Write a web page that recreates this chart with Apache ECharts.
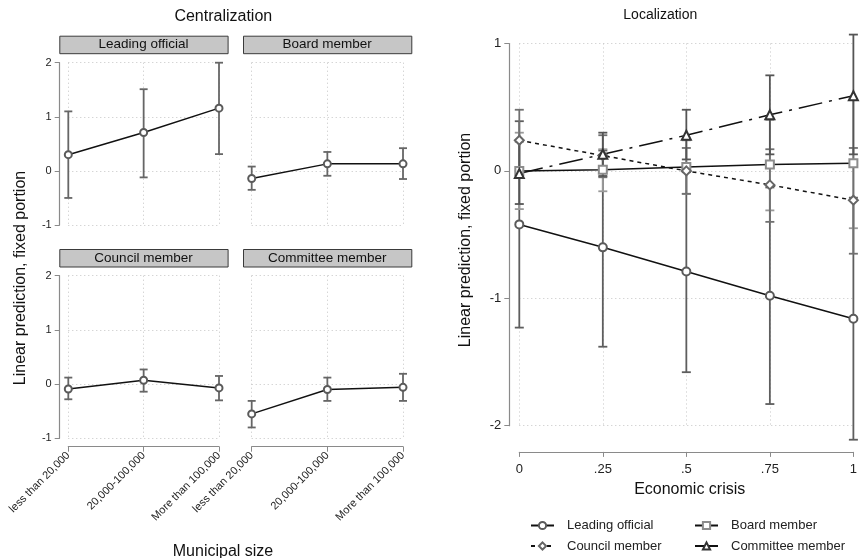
<!DOCTYPE html>
<html>
<head>
<meta charset="utf-8">
<script src="https://cdn.jsdelivr.net/npm/echarts@6/dist/echarts.min.js"></script>
<style>html,body{margin:0;padding:0;background:#fff}#c{width:860px;height:558px}</style>
</head>
<body>
<div id="c"></div>
<script>
// ---------- Data ----------
const sizeCats = ['less than 20,000', '20,000-100,000', 'More than 100,000'];
const sizeX = [1, 2, 3];
const panelTitles = ['Leading official', 'Board member', 'Council member', 'Committee member'];

// Centralization (by municipal size)
const cLeadMean = [0.30, 0.71, 1.16];
const cLeadLo = [-0.50, -0.12, 0.31];
const cLeadHi = [1.10, 1.51, 2.00];
const cBoardMean = [-0.14, 0.13, 0.13];
const cBoardLo = [-0.35, -0.09, -0.15];
const cBoardHi = [0.08, 0.35, 0.42];
const cCouncilMean = [-0.09, 0.07, -0.07];
const cCouncilLo = [-0.28, -0.14, -0.30];
const cCouncilHi = [0.12, 0.27, 0.15];
const cCommitteeMean = [-0.55, -0.10, -0.06];
const cCommitteeLo = [-0.80, -0.31, -0.31];
const cCommitteeHi = [-0.31, 0.12, 0.19];

// Localization (by economic crisis)
const crisis = [0, 0.25, 0.5, 0.75, 1];
const lLeadMean = [-0.42, -0.60, -0.79, -0.98, -1.16];
const lLeadLo = [-1.23, -1.38, -1.58, -1.83, -2.11];
const lLeadHi = [0.39, 0.16, -0.01, -0.13, -0.21];
const lBoardMean = [0.00, 0.01, 0.03, 0.05, 0.06];
const lBoardLo = [-0.30, -0.16, -0.18, -0.31, -0.45];
const lBoardHi = [0.30, 0.17, 0.24, 0.40, 0.56];
const lCouncilMean = [0.24, 0.12, 0.00, -0.11, -0.23];
const lCouncilLo = [0.00, -0.05, -0.18, -0.40, -0.65];
const lCouncilHi = [0.48, 0.28, 0.18, 0.17, 0.18];
const lCommitteeMean = [-0.02, 0.13, 0.28, 0.44, 0.59];
const lCommitteeLo = [-0.26, -0.04, 0.09, 0.13, 0.13];
const lCommitteeHi = [0.23, 0.30, 0.48, 0.75, 1.07];

const yTicksLeft = [-1, 0, 1, 2];
const yTicksRight = [-2, -1, 0, 1];
const crisisLabels = ['0', '.25', '.5', '.75', '1'];

// ---------- Helpers ----------
const FONT = 'Liberation Sans, Arial, sans-serif';
const AX = '#8a8a8a';
const GRIDC = '#c4c4c4';
const dotted = { show: true, lineStyle: { color: GRIDC, type: [1, 3], width: 1 } };

function zip(xs, ys) { return xs.map((x, i) => [x, ys[i]]); }
function zip3(xs, lo, hi) { return xs.map((x, i) => [x, lo[i], hi[i]]); }

function errBars(name, xs, lo, hi, gi, color, cap) {
  return {
    type: 'custom', name: name, xAxisIndex: gi, yAxisIndex: gi, z: 1, clip: false, silent: true,
    data: zip3(xs, lo, hi),
    encode: { x: 0, y: [1, 2] },
    renderItem: function (params, api) {
      const x = api.value(0), a = api.coord([x, api.value(1)]), b = api.coord([x, api.value(2)]);
      const st = { stroke: color, lineWidth: 1.8 };
      return { type: 'group', children: [
        { type: 'line', shape: { x1: a[0], y1: a[1], x2: b[0], y2: b[1] }, style: st },
        { type: 'line', shape: { x1: a[0] - cap, y1: a[1], x2: a[0] + cap, y2: a[1] }, style: st },
        { type: 'line', shape: { x1: b[0] - cap, y1: b[1], x2: b[0] + cap, y2: b[1] }, style: st }
      ] };
    }
  };
}

function meanLine(name, xs, ys, gi, symbol, mcolor, ltype, lcolor, size) {
  return {
    type: 'line', name: name, xAxisIndex: gi, yAxisIndex: gi, z: 3,
    data: zip(xs, ys), symbol: symbol, symbolSize: size || 7, showSymbol: true,
    lineStyle: { color: lcolor || '#111', width: 1.5, type: ltype || 'solid' },
    itemStyle: { color: mcolor, borderColor: mcolor, borderWidth: 1.1 },
    emphasis: { disabled: true }, animation: false
  };
}

// ---------- Grids / axes ----------
const gridsLeft = [
  { left: 68.3, top: 62.7, width: 150.7, height: 162.3 },
  { left: 251.7, top: 62.7, width: 151.3, height: 162.3 },
  { left: 68.3, top: 275.7, width: 150.7, height: 162.6 },
  { left: 251.7, top: 275.7, width: 151.3, height: 162.6 }
];
const grids = gridsLeft.concat([{ left: 519.3, top: 43.5, width: 340, height: 382.2 }]);

const xAxes = [], yAxes = [];
gridsLeft.forEach((g, i) => {
  const bottom = i >= 2;
  xAxes.push({
    type: 'value', gridIndex: i, position: 'bottom', min: 1, max: 3, interval: 1, offset: bottom ? 8.4 : 0,
    axisLine: { show: bottom, onZero: false, lineStyle: { color: AX, width: 1.2 } },
    axisTick: { show: bottom, length: 5, lineStyle: { color: AX } },
    axisLabel: { show: bottom, rotate: 45, margin: 7, fontSize: 11, color: '#222', fontFamily: FONT,
      formatter: v => sizeCats[sizeX.indexOf(v)] || '' },
    splitLine: dotted
  });
  const leftCol = (i % 2 === 0);
  yAxes.push({
    type: 'value', gridIndex: i, position: 'left', min: yTicksLeft[0], max: yTicksLeft[yTicksLeft.length - 1], interval: 1,
    offset: leftCol ? 8.6 : 0,
    axisLine: { show: leftCol, onZero: false, lineStyle: { color: AX, width: 1.2 } },
    axisTick: { show: leftCol, length: 5, lineStyle: { color: AX } },
    axisLabel: { show: leftCol, fontSize: 11, color: '#222', fontFamily: FONT, margin: 8 },
    splitLine: dotted
  });
});
xAxes.push({
  type: 'value', gridIndex: 4, position: 'bottom', min: 0, max: 1, interval: 0.25, offset: 26.2,
  axisLine: { show: true, onZero: false, lineStyle: { color: AX, width: 1.2 } },
  axisTick: { show: true, length: 5, lineStyle: { color: AX } },
  axisLabel: { fontSize: 13, color: '#222', fontFamily: FONT, margin: 11,
    formatter: v => crisisLabels[crisis.indexOf(v)] },
  splitLine: dotted
});
yAxes.push({
  type: 'value', gridIndex: 4, position: 'left', min: yTicksRight[0], max: yTicksRight[yTicksRight.length - 1], interval: 1, offset: 10,
  axisLine: { show: true, onZero: false, lineStyle: { color: AX, width: 1.2 } },
  axisTick: { show: true, length: 5, lineStyle: { color: AX } },
  axisLabel: { fontSize: 13, color: '#222', fontFamily: FONT, margin: 8 },
  splitLine: dotted
});

// ---------- Series ----------
const EB = '#666', EBL = '#999', MK = '#5a5a5a', MKL = '#8c8c8c';
const series = [
  errBars('cb0', sizeX, cLeadLo, cLeadHi, 0, EB, 4),
  meanLine('c-lead', sizeX, cLeadMean, 0, 'emptyCircle', MK),
  errBars('cb1', sizeX, cBoardLo, cBoardHi, 1, EB, 4),
  meanLine('c-board', sizeX, cBoardMean, 1, 'emptyCircle', MK),
  errBars('cb2', sizeX, cCouncilLo, cCouncilHi, 2, EB, 4),
  meanLine('c-council', sizeX, cCouncilMean, 2, 'emptyCircle', MK),
  errBars('cb3', sizeX, cCommitteeLo, cCommitteeHi, 3, EB, 4),
  meanLine('c-committee', sizeX, cCommitteeMean, 3, 'emptyCircle', MK),

  errBars('lb0', crisis, lLeadLo, lLeadHi, 4, '#5e5e5e', 4.5),
  errBars('lb1', crisis, lBoardLo, lBoardHi, 4, EBL, 4.5),
  errBars('lb2', crisis, lCouncilLo, lCouncilHi, 4, '#707070', 4.5),
  errBars('lb3', crisis, lCommitteeLo, lCommitteeHi, 4, '#555', 4.5),
  meanLine('Leading official', crisis, lLeadMean, 4, 'emptyCircle', MK, 'solid', '#111', 8),
  meanLine('Board member', crisis, lBoardMean, 4, 'emptyRect', MKL, 'solid', '#111', 8),
  meanLine('Council member', crisis, lCouncilMean, 4, 'emptyDiamond', '#666', [4, 4], '#111', 9),
  meanLine('Committee member', crisis, lCommitteeMean, 4, 'emptyTriangle', '#333', [24, 7, 3, 7], '#111', 9)
];

// ---------- Legends ----------
function leg(name, left, top) {
  return { data: [name], left: left, top: top, padding: 0, itemWidth: 23, itemHeight: 9,
    selectedMode: false, textStyle: { fontSize: 13, color: '#222', fontFamily: FONT, padding: [0, 0, 0, 8] } };
}
const legends = [
  leg('Leading official', 530, 519),
  leg('Board member', 694, 519),
  leg('Council member', 530, 539.5),
  leg('Committee member', 694, 539.5)
];

// ---------- Graphics (titles, headers) ----------
const headerPos = [[59.3, 35.7], [243, 35.7], [59.3, 249], [243, 249]];
const graphics = [];
panelTitles.forEach((t, i) => {
  graphics.push({ type: 'rect', left: headerPos[i][0], top: headerPos[i][1], shape: { width: 168.3, height: 17.5 },
    style: { fill: '#c6c6c6', stroke: '#3a3a3a', lineWidth: 1 }, z: 10 });
  graphics.push({ type: 'text', x: headerPos[i][0] + 84.2, y: headerPos[i][1] + 9, z: 11,
    style: { text: t, align: 'center', verticalAlign: 'middle', font: '13.5px ' + FONT, fill: '#111' } });
});
graphics.push({ type: 'text', x: 223.3, y: 16.5, style: { text: 'Centralization', align: 'center', verticalAlign: 'middle', font: '16px ' + FONT, fill: '#111' } });
graphics.push({ type: 'text', x: 660.3, y: 15.5, style: { text: 'Localization', align: 'center', verticalAlign: 'middle', font: '14px ' + FONT, fill: '#111' } });
graphics.push({ type: 'text', x: 21, y: 278, rotation: Math.PI / 2, style: { text: 'Linear prediction, fixed portion', align: 'center', verticalAlign: 'middle', font: '16px ' + FONT, fill: '#111' } });
graphics.push({ type: 'text', x: 466, y: 240, rotation: Math.PI / 2, style: { text: 'Linear prediction, fixed portion', align: 'center', verticalAlign: 'middle', font: '16px ' + FONT, fill: '#111' } });
graphics.push({ type: 'text', x: 223, y: 551.5, style: { text: 'Municipal size', align: 'center', verticalAlign: 'middle', font: '16px ' + FONT, fill: '#111' } });
graphics.push({ type: 'text', x: 689.7, y: 489.3, style: { text: 'Economic crisis', align: 'center', verticalAlign: 'middle', font: '16px ' + FONT, fill: '#111' } });

const chart = echarts.init(document.getElementById('c'), null, { renderer: 'canvas' });
chart.setOption({
  backgroundColor: '#fff',
  animation: false,
  textStyle: { fontFamily: FONT },
  grid: grids,
  xAxis: xAxes,
  yAxis: yAxes,
  legend: legends,
  graphic: graphics,
  series: series
});
</script>
</body>
</html>
